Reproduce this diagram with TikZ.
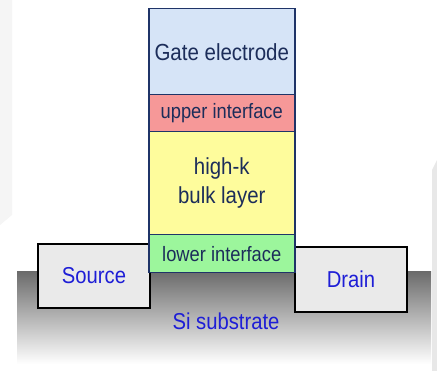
\documentclass[tikz,border=0pt]{standalone}
\usepackage{fontspec}
\setmainfont[FakeStretch=0.88]{Liberation Sans}

\definecolor{stackline}{RGB}{31,52,104}
\definecolor{stacktext}{RGB}{28,45,90}
\definecolor{gatefill}{RGB}{214,228,247}
\definecolor{upperfill}{RGB}{246,152,152}
\definecolor{bulkfill}{RGB}{254,252,156}
\definecolor{lowerfill}{RGB}{156,246,156}
\definecolor{sdfill}{RGB}{234,234,234}
\definecolor{sdtext}{RGB}{30,30,214}
\definecolor{subtop}{RGB}{108,108,108}

\tikzset{
	layer/.style={draw=stackline, line width=1.5pt, inner sep=0pt, anchor=north west,
		minimum width=146pt, text=stacktext, align=center},
	contact/.style={draw=black, line width=2pt, fill=sdfill, inner sep=0pt, anchor=north west,
		minimum width=112pt, text=sdtext},
}

\begin{document}
\begin{tikzpicture}[x=1pt, y=-1pt]
\useasboundingbox (0,0) rectangle (437,371);
\fill[white] (0,0) rectangle (437,371);

% faint page edges
\fill[black!4] (0,0) -- (12,0) -- (12,215) -- (0,225) -- cycle;
\fill[black!9] (432,170) -- (437,160) -- (437,371) -- (432,371) -- cycle;

% substrate
\shade[top color=subtop, bottom color=white] (17,272) rectangle (431,364);

\node[contact, minimum height=64pt, font=\fontsize{23}{27}\selectfont] (source) at (37,243) {Source};
\node[contact, minimum height=65pt, font=\fontsize{23}{27}\selectfont] (drain) at (294,246) {Drain};

\node[layer, fill=gatefill, minimum height=86pt, font=\fontsize{23.3}{27}\selectfont] (gate) at (148,8) {Gate electrode};
\node[layer, fill=upperfill, minimum height=37pt, font=\fontsize{20.8}{24}\selectfont] (upper) at (148,94) {upper interface};
\node[layer, fill=bulkfill, minimum height=103pt, font=\fontsize{23.2}{29}\selectfont] (bulk) at (148,131) {high-k\\bulk layer};
\node[layer, fill=lowerfill, minimum height=38pt, font=\fontsize{20.8}{24}\selectfont] (lower) at (148,234) {lower interface};

\node[text=sdtext, font=\fontsize{23}{27}\selectfont] (si) at (226,321) {Si substrate};
\end{tikzpicture}
\end{document}
